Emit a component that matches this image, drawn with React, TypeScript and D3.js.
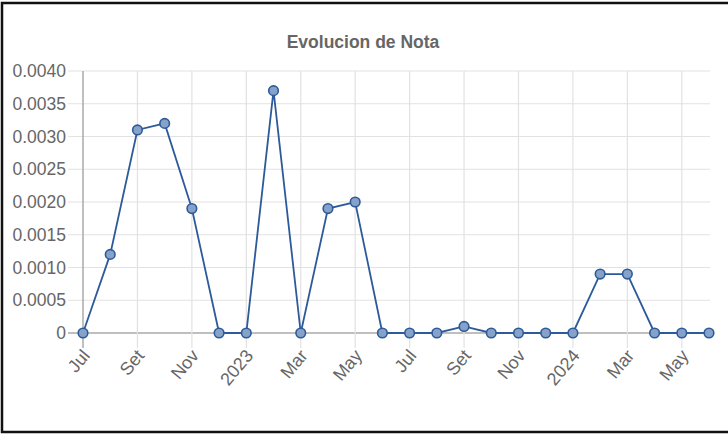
import { line, scaleLinear, scalePoint } from "d3";

const months = [
  "2022-07", "2022-08", "2022-09", "2022-10", "2022-11", "2022-12",
  "2023-01", "2023-02", "2023-03", "2023-04", "2023-05", "2023-06",
  "2023-07", "2023-08", "2023-09", "2023-10", "2023-11", "2023-12",
  "2024-01", "2024-02", "2024-03", "2024-04", "2024-05", "2024-06",
];

const notaValues = [
  0, 0.0012, 0.0031, 0.0032, 0.0019, 0,
  0, 0.0037, 0, 0.0019, 0.002, 0,
  0, 0, 0.0001, 0, 0, 0,
  0, 0.0009, 0.0009, 0, 0, 0,
];

const xTickMonths = [
  "2022-07", "2022-09", "2022-11", "2023-01", "2023-03", "2023-05",
  "2023-07", "2023-09", "2023-11", "2024-01", "2024-03", "2024-05",
];
const xTickLabels = [
  "Jul", "Set", "Nov", "2023", "Mar", "May",
  "Jul", "Set", "Nov", "2024", "Mar", "May",
];

const yTicks = [0, 0.0005, 0.001, 0.0015, 0.002, 0.0025, 0.003, 0.0035, 0.004];
const yTickLabels = [
  "0", "0.0005", "0.0010", "0.0015", "0.0020",
  "0.0025", "0.0030", "0.0035", "0.0040",
];

const title = "Evolucion de Nota";

const W = 728;
const H = 434;
const left = 83;
const right = 709;
const top = 71;
const bottom = 333;

export default function App() {
  const x = scalePoint<string>().domain(months).range([left, right]);
  const y = scaleLinear().domain([0, 0.004]).range([bottom, top]);
  const data = months.map((m, i) => ({ m, v: notaValues[i] }));
  const path = line<{ m: string; v: number }>()
    .x((d) => x(d.m) as number)
    .y((d) => y(d.v))(data);
  const font = "'Liberation Sans', Arial, sans-serif";

  return (
    <svg
      width={W}
      height={H}
      style={{ position: "absolute", left: 0, top: 0, background: "#fff" }}
      fontFamily={font}
    >
      <rect x={2} y={3} width={W + 20} height={429} fill="none" stroke="#111" strokeWidth={2.5} />
      <text x={363} y={48} textAnchor="middle" fontSize={17.5} fontWeight="bold" fill="#666">
        {title}
      </text>
      {/* horizontal grid */}
      {yTicks.map((t, i) => (
        <g key={i}>
          <line
            x1={68}
            x2={710}
            y1={y(t)}
            y2={y(t)}
            stroke={t === 0 ? "#aaa" : "#e2e2e2"}
            strokeWidth={t === 0 ? 1.5 : 1.2}
          />
          <text x={66} y={y(t) + 6} textAnchor="end" fontSize={17.5} fill="#666">
            {yTickLabels[i]}
          </text>
        </g>
      ))}
      {/* vertical grid */}
      {xTickMonths.map((m, i) => {
        const px = x(m) as number;
        return (
          <g key={m}>
            <line
              x1={px}
              x2={px}
              y1={top}
              y2={348}
              stroke={i === 0 ? "#aaa" : "#e2e2e2"}
              strokeWidth={i === 0 ? 1.5 : 1.2}
            />
            <text
              transform={`translate(${px + 3},${352}) rotate(-50)`}
              textAnchor="end"
              dy="0.35em"
              fontSize={18}
              fill="#666"
            >
              {xTickLabels[i]}
            </text>
          </g>
        );
      })}
      <path d={path ?? ""} fill="none" stroke="#2d5a9b" strokeWidth={1.8} />
      {data.map((d) => (
        <circle
          key={d.m}
          cx={x(d.m) as number}
          cy={y(d.v)}
          r={4.8}
          fill="#86a2c9"
          stroke="#2d5a9b"
          strokeWidth={1.6}
        />
      ))}
    </svg>
  );
}
